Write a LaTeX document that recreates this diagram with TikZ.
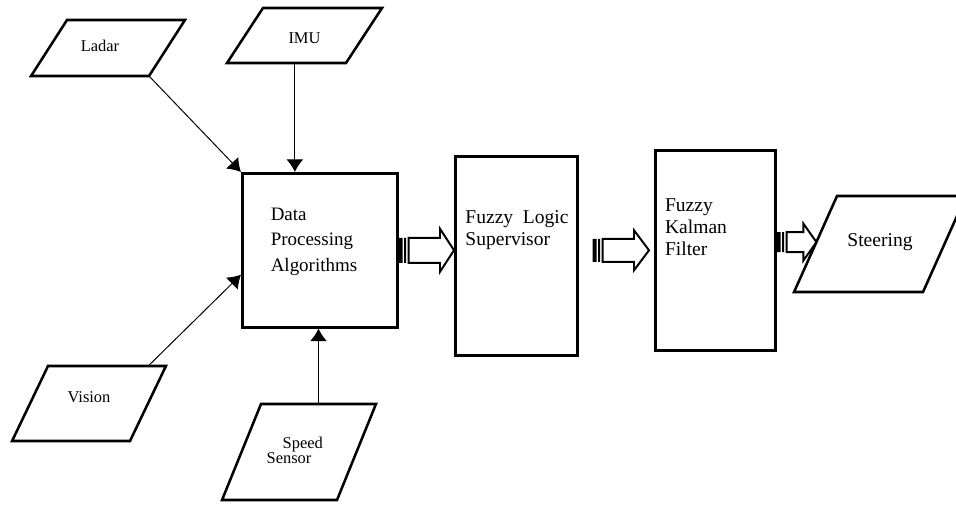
\documentclass[tikz,border=0pt]{standalone}
\usepackage{fontspec}
\setmainfont{Liberation Serif}
\usetikzlibrary{shapes.geometric,arrows.meta,positioning,calc}
\newcommand{\bigfont}{\fontsize{13.9}{15.6}\selectfont}
\newcommand{\smallfont}{\fontsize{11.7}{13}\selectfont}
\tikzstyle{a}=[anchor=north west]
\tikzstyle{box}=[a,draw,rectangle,line width=1.8pt,inner sep=0pt]
\tikzstyle{txt}=[align=left,inner sep=0pt,font=\bigfont]
\tikzstyle{io}=[draw,trapezium,line width=1.8pt,inner sep=0pt,outer sep=0pt,align=center,font=\smallfont]
\tikzstyle{arrow}=[draw,line width=0.7pt,-{Latex[length=9pt,width=12pt]}]
\tikzstyle{fat}=[draw,line width=1.4pt,fill=white,line join=miter]
% striped block arrow: from, to, shaft half height, head half height, head length
\newcommand{\fatarrow}[5]{%
  \draw[fat] let \p1=#1, \p2=#2 in
    (\x1+0.25cm,\y1+#3) -- (\x2-#5,\y1+#3) -- (\x2-#5,\y1+#4) -- (\x2,\y1)
    -- (\x2-#5,\y1-#4) -- (\x2-#5,\y1-#3) -- (\x1+0.25cm,\y1-#3) -- cycle;
  \fill let \p1=#1 in
    (\x1,\y1-#3) rectangle (\x1+0.1cm,\y1+#3)
    (\x1+0.14cm,\y1-#3) rectangle (\x1+0.19cm,\y1+#3);
}

\begin{document}
\begin{tikzpicture}
    \clip (0,0) rectangle (23.9,-12.6);

    % inputs
    \node[io, trapezium left angle=57.3, trapezium right angle=122.7, text width=2.05cm, text height=0.786cm, text depth=0.614cm] at (2.7,-1.2) (ladar) {Ladar\kern11.4pt};
    \node[io, trapezium left angle=56.8, trapezium right angle=123.2, text width=2.075cm, text height=0.886cm, text depth=0.489cm] at (7.6125,-0.8875) (imu) {IMU};
    \node[io, trapezium left angle=64.4, trapezium right angle=115.6, text width=2.05cm, text height=0.911cm, text depth=0.964cm] at (2.225,-10.0875) (vision) {Vision};
    \node[io, trapezium left angle=67.9, trapezium right angle=112.1, text width=1.9cm, text height=1.11cm, text depth=1.29cm, align=left, font=\fontsize{11.7}{10.7}\selectfont] at (7.475,-11.3) (speed) {\hspace*{15.4pt}Speed\\\hspace*{4pt}Sensor};

    % processing blocks
    \node[box, minimum width=3.875cm, minimum height=3.85cm] at (6.025,-4.3) (dpa) {};
    \node[txt, font=\fontsize{13.5}{18}\selectfont] at (7.85,-6.04) (dpatext) {Data\\Processing\\Algorithms};

    \node[box, minimum width=3.05cm, minimum height=4.975cm] at (11.35,-3.875) (fls) {};
    \node[txt] at (12.925,-5.75) (flstext) {Fuzzy\ \ Logic\\Supervisor};

    \node[box, minimum width=3cm, minimum height=5cm] at (16.35,-3.725) (fkf) {};
    \node[txt] at (17.4,-5.675) (fkftext) {Fuzzy\\Kalman\\Filter};

    % output
    \node[io, trapezium left angle=65.9, trapezium right angle=114.1, text width=2.15cm, text height=1.26cm, text depth=1.14cm, font=\bigfont] at (22.0,-6.1) (steer) {Steering};

    % sensor connections
    \coordinate (imuout) at ($(imu.bottom left corner)!0.57!(imu.bottom right corner)$);
    \coordinate (visout) at ($(vision.top left corner)!0.85!(vision.top right corner)$);
    \coordinate (visin) at ($(dpa.north west)!0.656!(dpa.south west)$);
    \coordinate (speedout) at ($(speed.top left corner)!0.5!(speed.top right corner)$);
    \coordinate (steerin) at ($(steer.bottom left corner)!0.52!(steer.top left corner)$);

    \draw[arrow] (ladar.bottom right corner) -- (dpa.north west);
    \draw[arrow] (imuout) -- (imuout |- dpa.north);
    \draw[arrow] (visout) -- (visin);
    \draw[arrow] (speedout) -- (speedout |- dpa.south);

    % data flow
    \fatarrow{(dpa.east)}{(fls.west)}{0.3125cm}{0.5375cm}{0.35cm}
    \fatarrow{($(fls.east|-fkf.west)+(0.35,0)$)}{($(fkf.west)+(-0.125,0)$)}{0.2875cm}{0.5cm}{0.375cm}
    \fatarrow{(fkf.east|-steerin)}{(steerin)}{0.25cm}{0.4625cm}{0.325cm}
\end{tikzpicture}
\end{document}
